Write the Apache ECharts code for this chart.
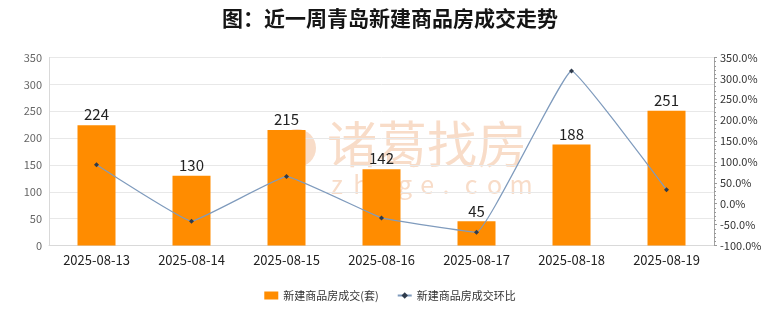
<!DOCTYPE html>
<html><head><meta charset="utf-8">
<script src="https://cdn.jsdelivr.net/npm/echarts@6/dist/echarts.min.js"></script>
<style>html,body{margin:0;padding:0;background:#fff}#c{width:780px;height:328px}</style>
</head><body><div id="c"></div>
<script>
const categories = ['2025-08-13','2025-08-14','2025-08-15','2025-08-16','2025-08-17','2025-08-18','2025-08-19'];
const deals = [224, 130, 215, 142, 45, 188, 251];
const changePct = [93, -42, 65.4, -34, -68.3, 317.8, 33.5];
const leftTicks = [0, 350, 50];
const rightTicks = [-100, 350, 50];
const titleText = '图：近一周青岛新建商品房成交走势';
const seriesNames = ['新建商品房成交(套)', '新建商品房成交环比'];
const watermarkMain = '诸葛找房';
const watermarkSub = 'zhuge.com';

const chart = echarts.init(document.getElementById('c'));
const font = '"Noto Sans CJK SC", "Noto Sans", sans-serif';
const wmColor = '#f8dcc8';
const graphics = [
  { type: 'circle', z: 0, shape: { cx: 297, cy: 148, r: 19 }, style: { fill: '#f8dcc8' } },
  { type: 'text', z: 0, left: 327, top: 119, style: { text: watermarkMain, fontSize: 50, fill: wmColor, fontFamily: font } }
];
watermarkSub.split('').forEach((ch, i) => {
  graphics.push({ type: 'text', z: 0, left: 331 + i * 22.3, top: 172,
    style: { text: ch, fontSize: 25, fill: wmColor, fontFamily: font } });
});

chart.setOption({
  animation: false,
  textStyle: { fontFamily: font },
  title: { text: titleText, left: 'center', top: 3,
    textStyle: { fontSize: 21, fontWeight: 'bold', color: '#151515', fontFamily: font } },
  graphic: graphics,
  grid: { left: 49, right: 66, top: 57.5, bottom: 82.5 },
  legend: {
    bottom: 22, left: 'center', itemGap: 18,
    itemWidth: 14, itemHeight: 8,
    textStyle: { fontSize: 11, color: '#333' },
    data: [
      { name: seriesNames[0], icon: 'rect', itemStyle: { color: '#FF8C00' } },
      { name: seriesNames[1] }
    ]
  },
  xAxis: {
    type: 'category', data: categories,
    axisLine: { lineStyle: { color: '#d9d9d9' } },
    axisTick: { show: false },
    axisLabel: { fontSize: 13, color: '#222', margin: 8 }
  },
  yAxis: [
    { type: 'value', min: leftTicks[0], max: leftTicks[1], interval: leftTicks[2],
      axisLine: { show: true, lineStyle: { color: '#d9d9d9' } },
      axisTick: { show: false },
      axisLabel: { fontSize: 11, color: '#666', margin: 7 },
      splitLine: { lineStyle: { color: '#e8e8e8' } } },
    { type: 'value', min: rightTicks[0], max: rightTicks[1], interval: rightTicks[2],
      axisLine: { show: true, lineStyle: { color: '#999', type: 'dotted' } },
      axisTick: { show: true, length: 3, lineStyle: { color: '#999' } },
      minorTick: { show: true, splitNumber: 5, length: 2, lineStyle: { color: '#999' } },
      axisLabel: { fontSize: 11, color: '#333', margin: 6, formatter: v => v.toFixed(1) + '%' },
      splitLine: { show: false } }
  ],
  series: [
    { name: seriesNames[0], type: 'bar', data: deals, barWidth: '40%', z: 2,
      itemStyle: { color: '#FF8C00' },
      label: { show: true, position: 'top', fontSize: 15, color: '#222', distance: 3 } },
    { name: seriesNames[1], type: 'line', yAxisIndex: 1, data: changePct, z: 3,
      smooth: 0.08, symbol: 'diamond', symbolSize: 5,
      lineStyle: { color: '#7f9bbd', width: 1.2 },
      itemStyle: { color: '#2f3b4c' } }
  ]
});
</script></body></html>
